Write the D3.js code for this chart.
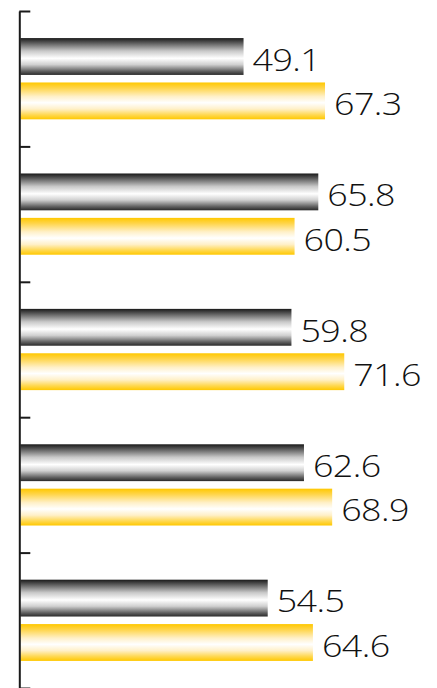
<!DOCTYPE html>
<html>
<head>
<meta charset="utf-8">
<script src="https://cdn.jsdelivr.net/npm/d3@7"></script>
<style>
  html, body { margin: 0; padding: 0; background: #fff; }
  svg { display: block; }
</style>
</head>
<body>
<svg id="chart" width="437" height="688"></svg>
<script>
const categories = ["1", "2", "3", "4", "5"];
const seriesNames = ["dark", "gold"];
const darkValues = [49.1, 65.8, 59.8, 62.6, 54.5];
const goldValues = [67.3, 60.5, 71.6, 68.9, 64.6];
const tickPositions = [0, 1, 2, 3, 4, 5];

(function () {
const svg = d3.select("#chart");
const axisX = 19.3;
const yTop = 11, yBottom = 688;

const x = d3.scaleLinear().domain([-1, 80]).range([axisX, axisX + 4.476 * 81]);
const y0 = d3.scaleBand().domain(categories).range([yTop, yBottom]).paddingInner(0.4).paddingOuter(0.2);
const y1 = d3.scaleBand().domain(seriesNames).range([0, y0.bandwidth()]).paddingInner(0.17).paddingOuter(0);
const yTicks = d3.scaleLinear().domain([0, 5]).range([yTop, yBottom]);

const defs = svg.append("defs");
const gDark = defs.append("linearGradient").attr("id", "gradDark").attr("x1", 0).attr("y1", 0).attr("x2", 0).attr("y2", 1);
[[0, "#1a1a1a"], [0.12, "#555"], [0.35, "#c8c8c8"], [0.55, "#ffffff"], [0.72, "#d0d0d0"], [0.9, "#606060"], [1, "#2a2a2a"]]
  .forEach(([o, c]) => gDark.append("stop").attr("offset", o).attr("stop-color", c));
const gGold = defs.append("linearGradient").attr("id", "gradGold").attr("x1", 0).attr("y1", 0).attr("x2", 0).attr("y2", 1);
[[0, "#ffc800"], [0.15, "#ffd54a"], [0.38, "#fff0c8"], [0.55, "#ffffff"], [0.72, "#fff0c8"], [0.88, "#ffd850"], [1, "#ffc800"]]
  .forEach(([o, c]) => gGold.append("stop").attr("offset", o).attr("stop-color", c));

const data = categories.map((c, i) => ({ cat: c, vals: [
  { s: "dark", v: darkValues[i] }, { s: "gold", v: goldValues[i] }
]}));

const groups = svg.append("g").selectAll("g").data(data).join("g")
  .attr("transform", d => `translate(0,${y0(d.cat)})`);

groups.selectAll("rect").data(d => d.vals).join("rect")
  .attr("x", x(-1) + 1)
  .attr("y", d => y1(d.s))
  .attr("width", d => x(d.v) - x(-1) - 1)
  .attr("height", y1.bandwidth())
  .attr("fill", d => d.s === "dark" ? "url(#gradDark)" : "url(#gradGold)");

groups.selectAll("text").data(d => d.vals).join("text")
  .attr("transform", d => `translate(${x(d.v) + 9},${y1(d.s) + y1.bandwidth() / 2 + 2}) scale(1.12,1)`)
  .attr("dominant-baseline", "central")
  .attr("font-family", "'Open Sans', sans-serif")
  .attr("font-weight", 300)
  .attr("font-size", 32)
  .attr("letter-spacing", -0.5)
  .attr("fill", "#111")
  .text(d => d.v.toFixed(1));

const axis = d3.axisRight(yTicks).tickValues(tickPositions).tickFormat("").tickSizeInner(11).tickSizeOuter(0);
const ag = svg.append("g").attr("transform", `translate(${axisX},0)`).call(axis);
ag.selectAll("path, line").attr("stroke", "#1a1a1a").attr("stroke-width", 2);
})();
</script>
</body>
</html>
